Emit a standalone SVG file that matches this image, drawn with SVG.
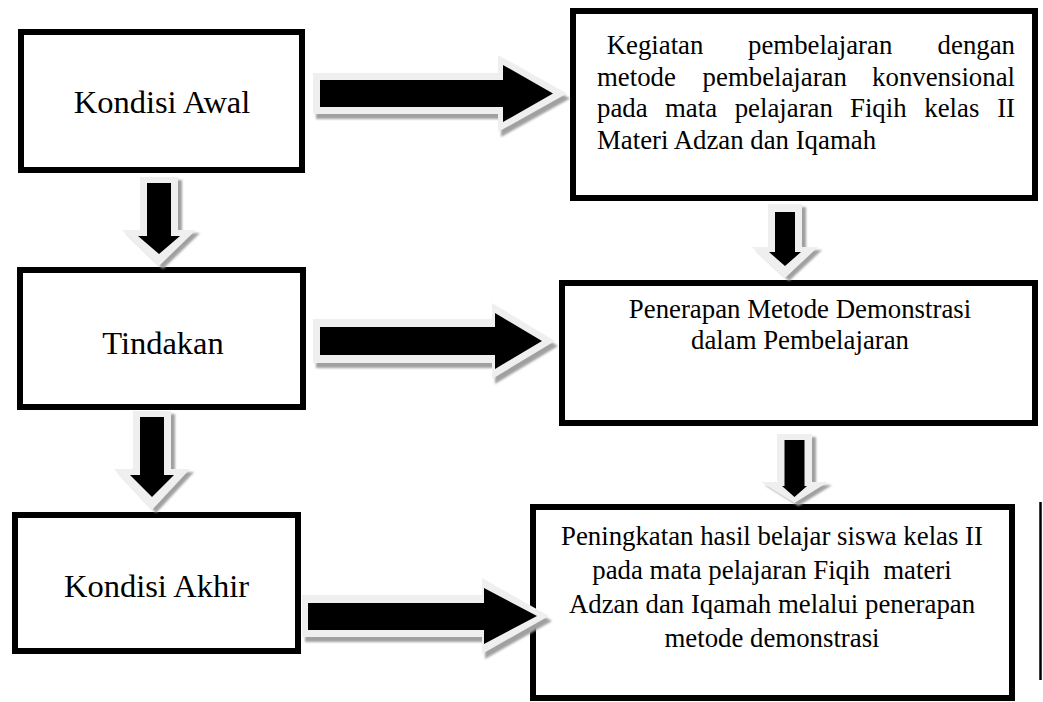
<svg xmlns="http://www.w3.org/2000/svg" width="1043" height="702" viewBox="0 0 1043 702">
<defs>
<style>
.box{fill:#fff;stroke:#000;stroke-width:6}
.lbl{font-family:"Liberation Serif","Times New Roman",serif;font-size:32.5px;fill:#000}
.body{font-family:"Liberation Serif","Times New Roman",serif;font-size:26.8px;fill:#000}
.ao{fill:#efefef}
.ab{fill:#000}
.sh{fill:#a0a0a0;filter:url(#blur)}
</style>
<filter id="blur" x="-10%" y="-10%" width="120%" height="120%"><feGaussianBlur stdDeviation="1.2"/></filter>
</defs>
<rect width="1043" height="702" fill="#fff"/>

<g id="node-kondisi-awal">
<rect class="box" x="21" y="32" width="281" height="138"/>
<text class="lbl" x="162" y="113" text-anchor="middle">Kondisi Awal</text>
</g>

<g id="node-kegiatan">
<rect class="box" x="573" y="11" width="462" height="187"/>
<text class="body" y="54"><tspan x="606.7">Kegiatan</tspan><tspan x="748">pembelajaran</tspan><tspan x="1015" text-anchor="end">dengan</tspan></text>
<text class="body" y="86"><tspan x="597">metode</tspan><tspan x="702.6">pembelajaran</tspan><tspan x="1015" text-anchor="end">konvensional</tspan></text>
<text class="body" y="117"><tspan x="597">pada</tspan><tspan x="665">mata</tspan><tspan x="734.7">pelajaran</tspan><tspan x="850">Fiqih</tspan><tspan x="924.3">kelas</tspan><tspan x="1015" text-anchor="end">II</tspan></text>
<text class="body" x="597" y="149">Materi Adzan dan Iqamah</text>
</g>

<g id="node-tindakan">
<rect class="box" x="20" y="270" width="283" height="137"/>
<text class="lbl" x="163" y="354" text-anchor="middle">Tindakan</text>
</g>

<g id="node-penerapan">
<rect class="box" x="562" y="283" width="473" height="140"/>
<text class="body" x="800" y="318" text-anchor="middle">Penerapan Metode Demonstrasi</text>
<text class="body" x="800" y="349" text-anchor="middle">dalam Pembelajaran</text>
</g>

<g id="node-kondisi-akhir">
<rect class="box" x="15" y="515" width="283" height="136"/>
<text class="lbl" x="156.5" y="597" text-anchor="middle">Kondisi Akhir</text>
</g>

<g id="node-peningkatan">
<rect class="box" x="533" y="507" width="479" height="191"/>
<text class="body" x="772" y="545" text-anchor="middle">Peningkatan hasil belajar siswa kelas II</text>
<text class="body" x="772" y="579" text-anchor="middle" xml:space="preserve">pada mata pelajaran Fiqih  materi</text>
<text class="body" x="772" y="613" text-anchor="middle">Adzan dan Iqamah melalui penerapan</text>
<text class="body" x="772" y="647" text-anchor="middle">metode demonstrasi</text>
<line x1="1040.5" y1="502" x2="1040.5" y2="680" stroke="#000" stroke-width="2.5"/>
</g>

<g id="connectors">
<path class="sh" transform="translate(3,5)" d="M313,73 H498 V55 L567,93.5 L498,132 V114 H313 Z"/>
<path class="ao" d="M313,73 H498 V55 L567,93.5 L498,132 V114 H313 Z"/>
<path class="ab" d="M320,80 H503 V65 L553,93.5 L503,122 V107 H320 Z"/>
<path class="sh" transform="translate(3,5)" d="M313,319 H492 V303 L555,341 L492,379 V363 H313 Z"/>
<path class="ao" d="M313,319 H492 V303 L555,341 L492,379 V363 H313 Z"/>
<path class="ab" d="M320,327 H495 V313 L542,341 L495,369 V355 H320 Z"/>
<path class="sh" transform="translate(3,5)" d="M302,595 H482 V578 L549,616 L482,654 V637 H302 Z"/>
<path class="ao" d="M302,595 H482 V578 L549,616 L482,654 V637 H302 Z"/>
<path class="ab" d="M308,603 H484 V588 L537,616 L484,644 V630 H308 Z"/>
<path class="sh" transform="translate(4,3)" d="M140,177 H178 V230 H196 L159,266 L122,230 H140 Z"/>
<path class="ao" d="M140,177 H178 V230 H196 L159,266 L122,230 H140 Z"/>
<path class="ab" d="M147,183 H171 V236 H180 L159,254 L138,236 H147 Z"/>
<path class="sh" transform="translate(4,3)" d="M133,411 H171 V469 H190 L152,510 L114,469 H133 Z"/>
<path class="ao" d="M133,411 H171 V469 H190 L152,510 L114,469 H133 Z"/>
<path class="ab" d="M140,417 H164 V475 H174 L152,497 L130,475 H140 Z"/>
<path class="sh" transform="translate(4,3)" d="M768,204 H802 V247 H818 L785,278 L752,247 H768 Z"/>
<path class="ao" d="M768,204 H802 V247 H818 L785,278 L752,247 H768 Z"/>
<path class="ab" d="M775,212 H795 V252 H801 L785,266 L769,252 H775 Z"/>
<path class="sh" transform="translate(4,3)" d="M777,434 H812 V482 H828 L794.5,503 L761,482 H777 Z"/>
<path class="ao" d="M777,434 H812 V482 H828 L794.5,503 L761,482 H777 Z"/>
<path class="ab" d="M784.5,440 H804.5 V486 H807 L794.5,497 L782,486 H784.5 Z"/>
</g>
</svg>
